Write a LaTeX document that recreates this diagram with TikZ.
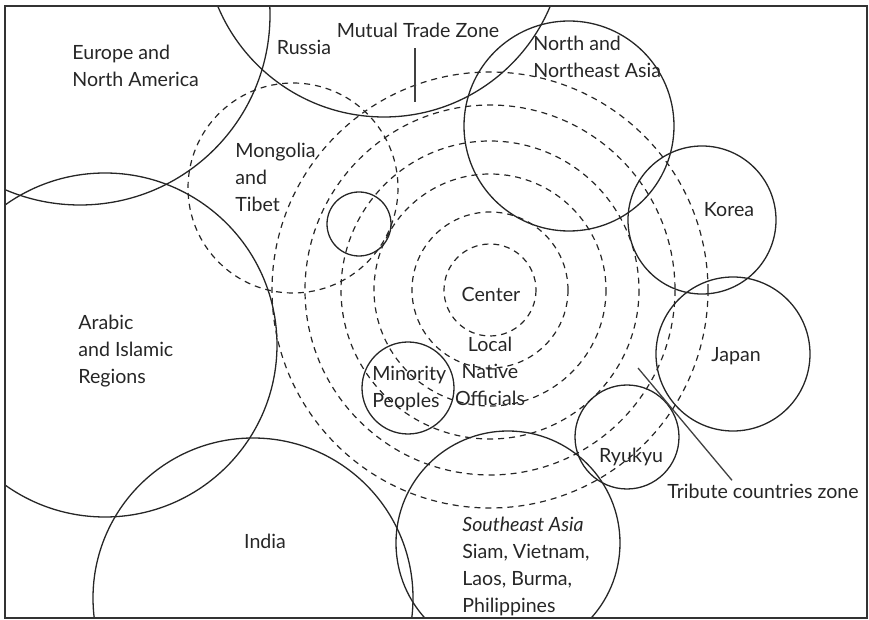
\documentclass[tikz,border=0pt]{standalone}
\usepackage{fontspec}
\setmainfont{Lato}
\usepackage{tikz}

\begin{document}
\begin{tikzpicture}[x=0.5pt,y=-0.5pt,
  ring/.style={black!85, line width=0.65pt},
  zone/.style={black!85, line width=0.6pt, dash pattern=on 3pt off 2.5pt},
  lbl/.style={inner sep=0pt, text=black!85, font=\fontsize{9.8}{13.5}\selectfont},
  leader/.style={black!75, line width=0.65pt}]
\useasboundingbox (0,0) rectangle (869,620);
\coordinate (core) at (490,290);
\begin{scope}
\clip (5,6) rectangle (867,618);
% zones round the center
\foreach \r in {46,78,116,149,185,218} \draw[zone] (core) circle (\r);
\draw[zone] (293,188) circle (105);
% countries and regions
\draw[ring] (80,15) circle (190);
\draw[ring] (384,-63) circle (180);
\draw[ring] (569,126) circle (105);
\draw[ring] (702,220) circle (74);
\draw[ring] (733,354) circle (77);
\draw[ring] (627,437) circle (52);
\draw[ring] (508,543) circle (112);
\draw[ring] (253,598) circle (160);
\draw[ring] (105,345) circle (172);
\draw[ring] (359,224) circle (32);
\draw[ring] (408,388) circle (46);
\end{scope}
\draw[black!80, line width=1pt] (5,6) rectangle (867,618);
% labels
\node[lbl, anchor=west, align=left] (europe) at (72,66) {Europe and\\North America};
\node[lbl] (russia) at (304,47) {Russia};
\node[lbl] (mutual) at (418,30) {Mutual Trade Zone};
\node[lbl, anchor=west, align=left] (nnasia) at (533,57) {North and\\Northeast Asia};
\node[lbl, anchor=west, align=left] (mongolia) at (235,177) {Mongolia\\and\\Tibet};
\node[lbl] (korea) at (729,210) {Korea};
\node[lbl] (center) at (491,294) {Center};
\node[lbl, align=center] (local) at (490,371) {Local\\Native\\Officials};
\node[lbl, anchor=west, align=left] (minority) at (372,389) {Minority\\Peoples};
\node[lbl, anchor=west, align=left] (arabic) at (78,351) {Arabic\\and Islamic\\Regions};
\node[lbl] (india) at (265,541) {India};
\node[lbl] (japan) at (736,356) {Japan};
\node[lbl] (ryukyu) at (631,457) {Ryukyu};
\node[lbl, anchor=west, align=left] (seasia) at (462,566) {\itshape Southeast Asia\\Siam, Vietnam,\\Laos, Burma,\\Philippines};
\node[lbl] (tribute) at (763,491) {Tribute countries zone};
% leaders
\coordinate (mtzfoot) at (415,102);
\draw[leader, shorten >=5pt] (mtzfoot) -- (mtzfoot |- mutual.south);
\coordinate (tribtop) at (638,368);
\draw[leader] (tribtop) -- ([xshift=-15.5pt,yshift=1.5pt]tribute.north);
\end{tikzpicture}
\end{document}
